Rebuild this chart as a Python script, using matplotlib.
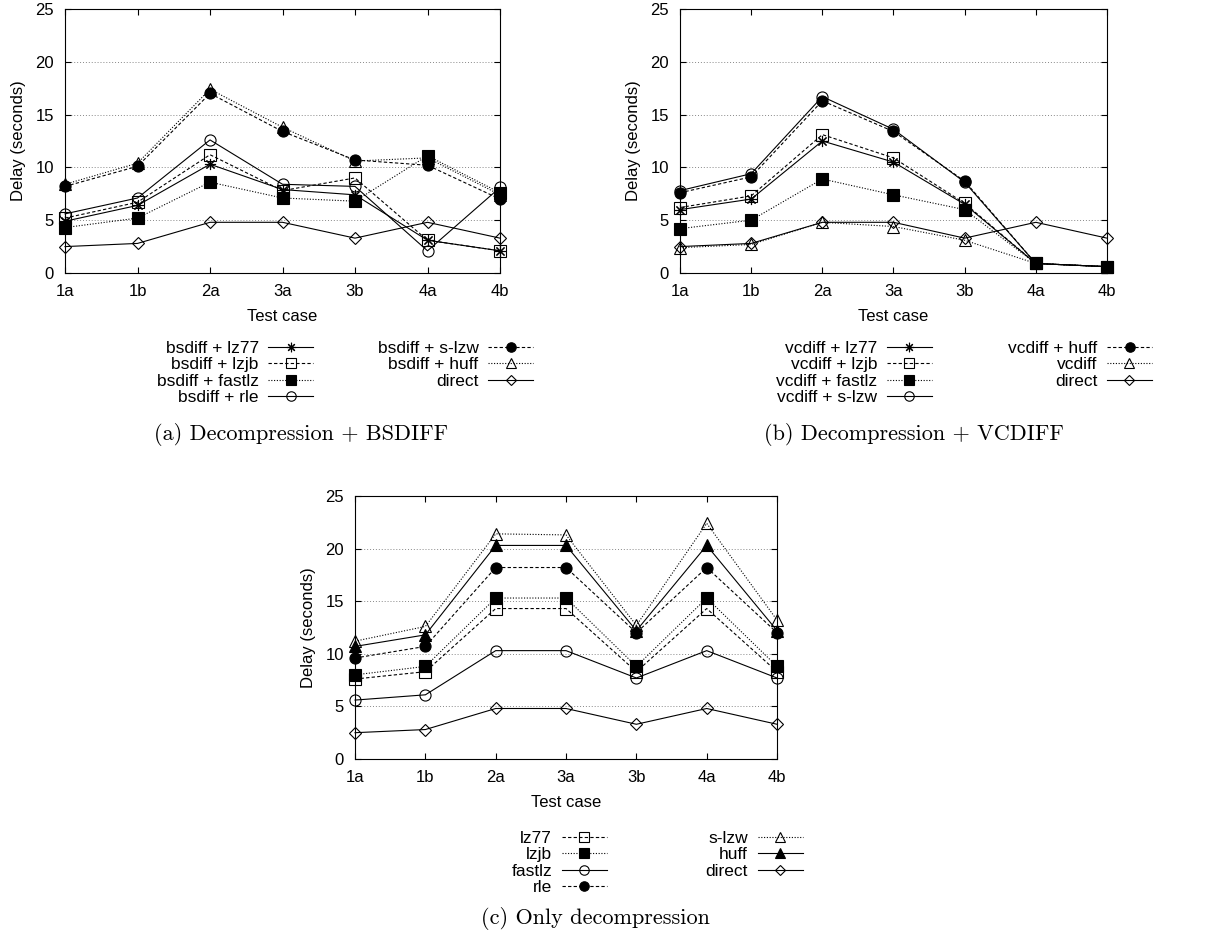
import matplotlib
matplotlib.use('Agg')
import matplotlib.pyplot as plt
import numpy as np

plt.rcParams['font.family'] = ['Liberation Sans', 'DejaVu Sans']
plt.rcParams['font.size'] = 12

cases = ['1a', '1b', '2a', '3a', '3b', '4a', '4b']

# (a) decompression + bsdiff
a_lz77 = [4.9, 6.4, 10.3, 7.9, 7.4, 3.1, 2.1]
a_lzjb = [5.2, 6.7, 11.2, 7.8, 9.0, 3.1, 2.1]
a_fastlz = [4.3, 5.2, 8.6, 7.1, 6.8, 11.1, 7.6]
a_rle = [5.6, 7.1, 12.6, 8.4, 8.2, 2.1, 8.1]
a_slzw = [8.2, 10.1, 17.0, 13.4, 10.7, 10.2, 7.0]
a_huff = [8.4, 10.4, 17.4, 13.8, 10.6, 10.9, 7.4]

# (b) decompression + vcdiff
b_lz77 = [6.0, 7.0, 12.5, 10.5, 6.5, 0.9, 0.6]
b_lzjb = [6.2, 7.3, 13.1, 10.9, 6.6, 0.9, 0.6]
b_fastlz = [4.2, 5.0, 8.9, 7.4, 6.0, 0.9, 0.6]
b_slzw = [7.8, 9.4, 16.7, 13.6, 8.6, 0.9, 0.6]
b_huff = [7.6, 9.1, 16.3, 13.4, 8.7, 0.9, 0.6]
b_vcdiff = [2.4, 2.7, 4.8, 4.4, 3.1, 0.9, 0.6]

# (c) only decompression
c_lz77 = [7.6, 8.3, 14.3, 14.3, 8.3, 14.3, 8.3]
c_lzjb = [8.0, 8.8, 15.3, 15.3, 8.8, 15.3, 8.8]
c_fastlz = [5.6, 6.1, 10.3, 10.3, 7.7, 10.3, 7.7]
c_rle = [9.6, 10.7, 18.2, 18.2, 12.0, 18.2, 12.0]
c_slzw = [11.2, 12.6, 21.4, 21.3, 12.7, 22.4, 13.2]
c_huff = [10.7, 11.8, 20.3, 20.3, 12.2, 20.3, 12.2]

direct = [2.5, 2.8, 4.8, 4.8, 3.3, 4.8, 3.3]

SOLID = '-'
DASHED = (0, (3, 2))
DOTTED = (0, (1, 1.5))

# marker styles: (marker, filled)
STAR = ((8, 2, 0), True)
OSQ = ('s', False)
FSQ = ('s', True)
OCI = ('o', False)
FCI = ('o', True)
OTR = ('^', False)
FTR = ('^', True)
DIA = ('D', False)


def panel(fig, rect, series, colspace, leg_xy, caption, cap_xy):
    ax = fig.add_axes(rect)
    x = np.arange(len(cases))
    for label, y, ls, (mk, filled) in series:
        ms = 6.5 if mk == 'D' else 8
        ax.plot(x, y, linestyle=ls, color='black', linewidth=0.8,
                marker=mk, markersize=ms, markeredgewidth=0.8,
                markerfacecolor='black' if filled else 'none',
                markeredgecolor='black', label=label, clip_on=False)
    ax.set_xlim(0, len(cases) - 1)
    ax.set_ylim(0, 25)
    ax.set_xticks(x)
    ax.set_xticklabels(cases)
    ax.set_yticks(np.arange(0, 26, 5))
    ax.tick_params(direction='in', top=True, right=True, length=4,
                   labelsize=12, pad=8)
    ax.yaxis.grid(True, linestyle=(0, (1, 2)), color='#888888', linewidth=0.7)
    ax.set_axisbelow(True)
    ax.set_xlabel('Test case', fontsize=12, labelpad=7)
    ax.set_ylabel('Delay (seconds)', fontsize=12, labelpad=7)
    ax.legend(ncol=2, markerfirst=False, frameon=False, loc='upper center',
              bbox_to_anchor=leg_xy, bbox_transform=fig.transFigure,
              fontsize=12.5, handlelength=2.6, handletextpad=0.55,
              labelspacing=0.08, columnspacing=colspace, borderpad=0,
              markerscale=0.85)
    fig.text(cap_xy[0], cap_xy[1], caption, ha='center', va='center',
             fontsize=16, family='cmr10')
    return ax


fig = plt.figure(figsize=(12.13, 9.33), dpi=100)

series_a = [
    ('bsdiff + lz77', a_lz77, SOLID, STAR),
    ('bsdiff + lzjb', a_lzjb, DASHED, OSQ),
    ('bsdiff + fastlz', a_fastlz, DOTTED, FSQ),
    ('bsdiff + rle', a_rle, SOLID, OCI),
    ('bsdiff + s-lzw', a_slzw, DASHED, FCI),
    ('bsdiff + huff', a_huff, DOTTED, OTR),
    ('direct', direct, SOLID, DIA),
]
series_b = [
    ('vcdiff + lz77', b_lz77, SOLID, STAR),
    ('vcdiff + lzjb', b_lzjb, DASHED, OSQ),
    ('vcdiff + fastlz', b_fastlz, DOTTED, FSQ),
    ('vcdiff + s-lzw', b_slzw, SOLID, OCI),
    ('vcdiff + huff', b_huff, DASHED, FCI),
    ('vcdiff', b_vcdiff, DOTTED, OTR),
    ('direct', direct, SOLID, DIA),
]
series_c = [
    ('lz77', c_lz77, DASHED, OSQ),
    ('lzjb', c_lzjb, DOTTED, FSQ),
    ('fastlz', c_fastlz, SOLID, OCI),
    ('rle', c_rle, DASHED, FCI),
    ('s-lzw', c_slzw, DOTTED, OTR),
    ('huff', c_huff, SOLID, FTR),
    ('direct', direct, SOLID, DIA),
]

panel(fig, [0.0536, 0.7074, 0.3586, 0.2830], series_a, 3.7,
      (345 / 1213, 1 - 332 / 933), '(a) Decompression + BSDIFF',
      (301 / 1213, 1 - 435 / 933))
panel(fig, [0.5606, 0.7074, 0.3520, 0.2830], series_b, 4.4,
      (964 / 1213, 1 - 332 / 933), '(b) Decompression + VCDIFF',
      (914 / 1213, 1 - 435 / 933))
panel(fig, [0.2927, 0.1865, 0.3479, 0.2819], series_c, 5.7,
      (657 / 1213, 1 - 822 / 933), '(c) Only decompression',
      (595 / 1213, 1 - 918 / 933))

fig.savefig('out.png', dpi=100)
